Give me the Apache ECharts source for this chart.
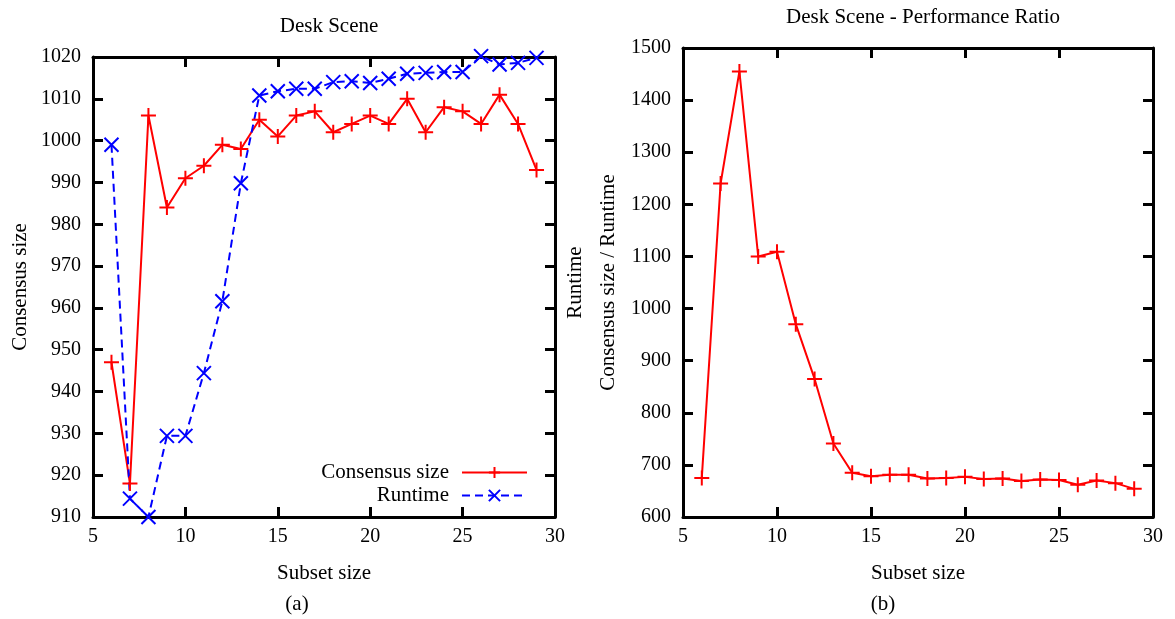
<!DOCTYPE html>
<html>
<head>
<meta charset="utf-8">
<script src="https://cdn.jsdelivr.net/npm/echarts@6/dist/echarts.min.js"></script>
<style>
html,body{margin:0;padding:0;background:#fff;}
#c{width:1175px;height:619px;}
</style>
</head>
<body>
<div id="c"></div>
<script>
var subsetSize = [6,7,8,9,10,11,12,13,14,15,16,17,18,19,20,21,22,23,24,25,26,27,28,29];
var consensusSize = [947,918,1006,984,991,994,999,998,1005,1001,1006,1007,1002,1004,1006,1004,1010,1002,1008,1007,1004,1011,1004,993];
var runtimeScaled = [999,914.4,910,929.4,929.4,944.4,961.6,989.8,1010.8,1011.8,1012.4,1012.4,1014,1014.2,1013.8,1014.8,1016,1016.2,1016.4,1016.4,1020.2,1018.2,1018.6,1019.8];
var perfRatio = [675,1240,1455,1100,1109,970,865,741,685,678,681,681,674,675,677,673,674,669,672,671,662,670,665,654];
var xTicks = {min:5, max:30, interval:5};
var leftY = {min:910, max:1020, interval:10};
var rightY = {min:600, max:1500, interval:100};

function pairs(xs, ys){ return xs.map(function(x,i){ return [x, ys[i]]; }); }

var FONT = "'Liberation Serif','DejaVu Serif',serif";
var plus = 'path://M0,-10L0,10M-10,0L10,0';
var cross = 'path://M-10,-10L10,10M-10,10L10,-10';
function plain(v){ return String(v); }

function xAx(grid, show, pos){
  return {type:'value', gridIndex:grid, position:pos, min:xTicks.min, max:xTicks.max, interval:xTicks.interval,
    axisLine:{show:true, onZero:false, lineStyle:{color:'#000', width:3}},
    axisTick:{show:true, inside:true, length:10, lineStyle:{color:'#000', width:3}},
    axisLabel:{show:show, color:'#000', fontFamily:FONT, fontSize:20, margin:10, formatter:plain},
    splitLine:{show:false},
    name: show ? 'Subset size' : '', nameLocation:'middle', nameGap:46,
    nameTextStyle:{color:'#000', fontFamily:FONT, fontSize:21, lineHeight:21}};
}
function yAx(grid, show, pos, r, name, gap, lh){
  return {type:'value', gridIndex:grid, position:pos, min:r.min, max:r.max, interval:r.interval,
    axisLine:{show:true, onZero:false, lineStyle:{color:'#000', width:3}},
    axisTick:{show:true, inside:true, length:10, lineStyle:{color:'#000', width:3}},
    axisLabel:{show:show, color:'#000', fontFamily:FONT, fontSize:20, margin:12, formatter:plain},
    splitLine:{show:false},
    name: name || '', nameLocation:'middle', nameGap:gap || 50, nameRotate:90,
    nameTextStyle:{color:'#000', fontFamily:FONT, fontSize:21, lineHeight:lh || 21, align:'center'}};
}

var chart = echarts.init(document.getElementById('c'), null, {renderer:'canvas'});
chart.setOption({
  animation:false,
  backgroundColor:'#fff',
  title:[
    {text:'Desk Scene', left:324, top:11, textAlign:'center', textStyle:{fontFamily:FONT, fontSize:21, fontWeight:'normal', color:'#000'}},
    {text:'Desk Scene - Performance Ratio', left:918, top:2, textAlign:'center', textStyle:{fontFamily:FONT, fontSize:21, fontWeight:'normal', color:'#000'}}
  ],
  graphic:[
    {type:'text', x:297, y:604, style:{text:'(a)', font:'21px '+FONT, fill:'#000', align:'center', verticalAlign:'middle'}},
    {type:'text', x:883, y:604, style:{text:'(b)', font:'21px '+FONT, fill:'#000', align:'center', verticalAlign:'middle'}}
  ],
  legend:{
    data:['Consensus size','Runtime'], orient:'vertical', align:'right', right:642, top:457,
    itemWidth:65, itemHeight:14, itemGap:2,
    textStyle:{fontFamily:FONT, fontSize:21, color:'#000', padding:[0,8,0,0]}
  },
  grid:[
    {left:93, right:620, top:57, bottom:102},
    {left:683, right:22, top:48, bottom:102}
  ],
  xAxis:[xAx(0,true,'bottom'), xAx(0,false,'top'), xAx(1,true,'bottom'), xAx(1,false,'top')],
  yAxis:[yAx(0,true,'left',leftY,'Consensus size',62,21), yAx(0,false,'right',leftY),
         yAx(1,true,'left',rightY,'Runtime\nConsensus size / Runtime',58,33), yAx(1,false,'right',rightY)],
  series:[
    {name:'Consensus size', type:'line', xAxisIndex:0, yAxisIndex:0, data:pairs(subsetSize, consensusSize), clip:false,
      symbol:plus, symbolSize:15, lineStyle:{color:'#ff0000', width:2},
      itemStyle:{color:'#ff0000', borderColor:'#ff0000', borderWidth:2}},
    {name:'Runtime', type:'line', xAxisIndex:0, yAxisIndex:0, data:pairs(subsetSize, runtimeScaled), clip:false,
      symbol:cross, symbolSize:14, lineStyle:{color:'#0000ff', width:2, type:[8,5]},
      itemStyle:{color:'#0000ff', borderColor:'#0000ff', borderWidth:2}},
    {name:'Ratio', type:'line', xAxisIndex:2, yAxisIndex:2, data:pairs(subsetSize, perfRatio), clip:false,
      symbol:plus, symbolSize:15, lineStyle:{color:'#ff0000', width:2},
      itemStyle:{color:'#ff0000', borderColor:'#ff0000', borderWidth:2}}
  ]
});
</script>
</body>
</html>
